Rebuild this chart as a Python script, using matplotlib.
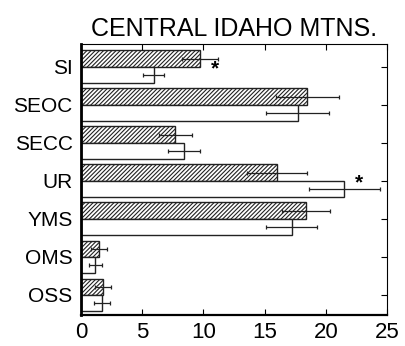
import matplotlib
matplotlib.use('Agg')
import matplotlib.pyplot as plt
import numpy as np

plt.rcParams['font.family'] = ['Liberation Sans', 'DejaVu Sans']
plt.rcParams['hatch.linewidth'] = 0.8

sites = ['OSS', 'OMS', 'YMS', 'UR', 'SECC', 'SEOC', 'SI']
hatched_vals = [1.77, 1.47, 18.4, 15.98, 7.7, 18.5, 9.72]
hatched_err = [0.65, 0.68, 1.95, 2.45, 1.33, 2.6, 1.45]
open_vals = [1.74, 1.17, 17.2, 21.5, 8.44, 17.7, 5.96]
open_err = [0.64, 0.52, 2.05, 2.9, 1.3, 2.6, 0.86]
star_sites = ['SI', 'UR']
star_x = [10.95, 22.7]

y = np.arange(len(sites))
h = 0.43

fig = plt.figure(figsize=(4.05, 3.46), dpi=100)
ax = fig.add_axes([0.2, 0.0896, 0.7556, 0.7832])

ax.barh(y + h / 2, hatched_vals, height=h, color='white', edgecolor='#222222',
        hatch='////////', linewidth=1.0)
ax.barh(y - h / 2, open_vals, height=h, color='white', edgecolor='#222222',
        linewidth=1.0)
ax.errorbar(hatched_vals, y + h / 2, xerr=hatched_err, fmt='none', ecolor='#222222',
            elinewidth=0.9, capsize=1.5, capthick=0.9)
ax.errorbar(open_vals, y - h / 2, xerr=open_err, fmt='none', ecolor='#222222',
            elinewidth=0.9, capsize=1.5, capthick=0.9)

for s, sx in zip(star_sites, star_x):
    i = sites.index(s)
    ax.text(sx, i - 0.05, '*', fontsize=15, ha='center', va='center', fontweight='bold')

ax.set_xlim(0, 25)
ax.set_ylim(-0.53, 6.6)
ax.set_xticks([0, 5, 10, 15, 20, 25])
ax.set_yticks(y)
ax.set_yticklabels(sites)
ax.tick_params(axis='y', labelsize=15)
ax.tick_params(axis='x', labelsize=16)
ax.tick_params(axis='both', direction='in', length=4, width=0.8)
ax.tick_params(axis='x', top=True, pad=5)
ax.tick_params(axis='y', left=False, right=True, pad=6)

ax.spines['left'].set_linewidth(2)
ax.spines['bottom'].set_linewidth(1.6)
ax.spines['top'].set_linewidth(0.8)
ax.spines['right'].set_linewidth(0.8)

ax.set_title('CENTRAL IDAHO MTNS.', fontsize=18, pad=6)

fig.savefig('out.png', dpi=100)
